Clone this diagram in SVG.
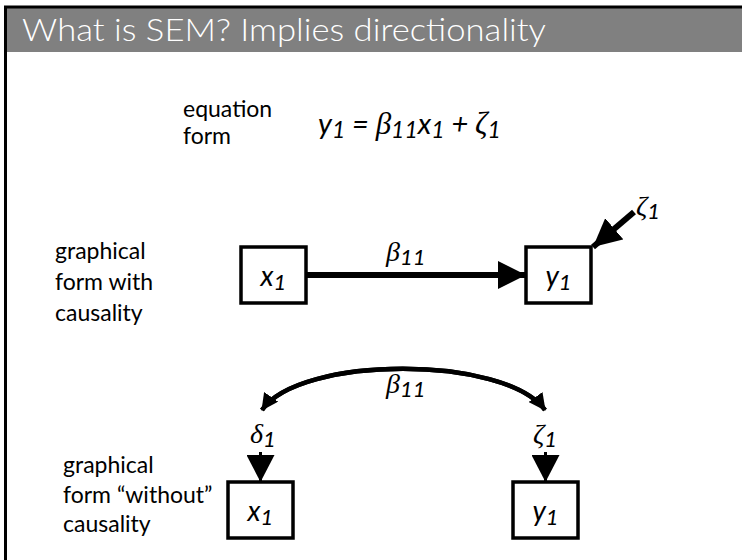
<svg xmlns="http://www.w3.org/2000/svg" width="742" height="560" viewBox="0 0 742 560">
<style>
.lbl{font-family:Lato,"Liberation Sans",sans-serif;font-size:23px;fill:#000}
.mi{font-family:Lato,"Liberation Sans",sans-serif;font-style:italic;fill:#000}
.gr{font-family:"Liberation Serif","DejaVu Serif",serif;font-style:italic;fill:#000}
.box{fill:#fff;stroke:#000;stroke-width:3.5}
.thick{stroke:#000;stroke-width:6;fill:none}
.curve{stroke:#000;stroke-width:4.5;fill:none}
.stem{stroke:#000;stroke-width:3;fill:none}
</style>
<defs>
<marker id="big" markerUnits="userSpaceOnUse" markerWidth="28" markerHeight="28" refX="28" refY="14" orient="auto"><path d="M0,0 L28,14 L0,28 z" fill="#000"/></marker>
<marker id="tri" markerUnits="userSpaceOnUse" markerWidth="27" markerHeight="28" refX="27" refY="14" orient="auto"><path d="M0,0 L27,14 L0,28 z" fill="#000"/></marker>
<marker id="small" markerUnits="userSpaceOnUse" markerWidth="17" markerHeight="17" refX="16" refY="8.5" orient="auto"><path d="M0,0 L17,8.5 L0,17 z" fill="#000"/></marker>
</defs>
<rect x="0" y="0" width="742" height="560" fill="#fff"/>
<g id="header">
<rect x="6" y="7" width="736" height="45" fill="#808080"/>
<line x1="4" y1="7" x2="742" y2="7" stroke="#000" stroke-width="3"/>
<line x1="5.5" y1="6" x2="5.5" y2="560" stroke="#000" stroke-width="3"/>
<text x="22" y="41" font-family="Lato,'Open Sans',sans-serif" font-weight="300" font-size="32" fill="#fff" textLength="524" lengthAdjust="spacingAndGlyphs">What is SEM? Implies directionality</text>
</g>
<g id="equation-label"><text class="lbl" x="183" y="117">equation</text><text class="lbl" x="183" y="144">form</text></g>
<g id="equation"><text x="318" y="134" font-size="29"><tspan class="mi">y</tspan><tspan class="mi" font-size="23" dy="4">1</tspan><tspan class="mi" dy="-4"> = </tspan><tspan class="gr" font-size="31">β</tspan><tspan class="mi" font-size="23" dy="4">11</tspan><tspan class="mi" dy="-4">x</tspan><tspan class="mi" font-size="23" dy="4">1</tspan><tspan class="mi" dy="-4"> + </tspan><tspan class="gr" font-size="31">ζ</tspan><tspan class="mi" font-size="23" dy="4">1</tspan></text></g>
<g id="label-causal"><text class="lbl" x="55" y="259">graphical</text><text class="lbl" x="55" y="290">form with</text><text class="lbl" x="55" y="321">causality</text></g>
<g id="label-noncausal"><text class="lbl" x="63" y="473">graphical</text><text class="lbl" x="63" y="503">form “without”</text><text class="lbl" x="63" y="532">causality</text></g>
<g id="x1-top"><rect class="box" x="241" y="247" width="65" height="56"/><text class="mi" x="273.5" y="286" font-size="28" text-anchor="middle">x<tspan font-size="22" dy="4">1</tspan></text></g>
<g id="y1-top"><rect class="box" x="526" y="247" width="65" height="56"/><text class="mi" x="558.5" y="286" font-size="28" text-anchor="middle">y<tspan font-size="22" dy="4">1</tspan></text></g>
<g id="zeta-top"><text x="636" y="215" font-size="28"><tspan class="gr">ζ</tspan><tspan class="mi" font-size="22" dy="4">1</tspan></text></g>
<g id="x1-bottom"><rect class="box" x="228" y="482" width="65" height="56"/><text class="mi" x="260.5" y="521" font-size="28" text-anchor="middle">x<tspan font-size="22" dy="4">1</tspan></text></g>
<g id="y1-bottom"><rect class="box" x="513" y="482" width="65" height="56"/><text class="mi" x="545.5" y="521" font-size="28" text-anchor="middle">y<tspan font-size="22" dy="4">1</tspan></text></g>
<g id="delta-bottom"><text x="250" y="443" font-size="28"><tspan class="gr">δ</tspan><tspan class="mi" font-size="22" dy="4">1</tspan></text></g>
<g id="zeta-bottom"><text x="533" y="443" font-size="28"><tspan class="gr">ζ</tspan><tspan class="mi" font-size="22" dy="4">1</tspan></text></g>
<g id="connectors">
<line class="thick" x1="306" y1="275" x2="526" y2="275" marker-end="url(#big)"/>
<text x="386" y="261" font-size="28"><tspan class="gr">β</tspan><tspan class="mi" font-size="22" dy="4">11</tspan></text>
<line class="thick" x1="634" y1="212" x2="593" y2="247" marker-end="url(#big)"/>
<path class="curve" d="M545,410 C505,355 300,355 262,410" marker-end="url(#small)"/>
<path class="curve" d="M262,410 C300,355 505,355 545,410" marker-end="url(#small)"/>
<text x="386" y="393" font-size="28"><tspan class="gr">β</tspan><tspan class="mi" font-size="22" dy="4">11</tspan></text>
<line class="stem" x1="260.5" y1="452" x2="260.5" y2="482" marker-end="url(#tri)"/>
<line class="stem" x1="545.5" y1="452" x2="545.5" y2="482" marker-end="url(#tri)"/>
</g>
</svg>
